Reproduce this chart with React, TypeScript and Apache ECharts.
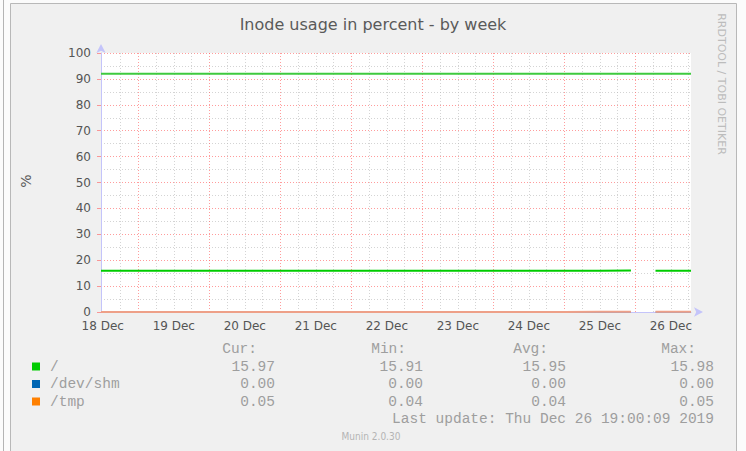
import React, { useEffect, useRef } from "react";
import * as echarts from "echarts";

const TITLE = "Inode usage in percent - by week";
const Y_NAME = "%";
const WATERMARK = "RRDTOOL / TOBI OETIKER";

// x values: hours since 18 Dec 2019 00:00
const times = [11.4, 24, 36, 48, 60, 72, 84, 96, 108, 120, 132, 144, 156, 168, 180, 190.5, 194, 198.8, 204, 210.8];
const rootValues = [15.91, 15.92, 15.93, 15.93, 15.94, 15.94, 15.95, 15.95, 15.95, 15.96, 15.96, 15.96, 15.97, 15.97, 15.97, 15.98, null, 15.97, 15.97, 15.97];
const shmValues = [0, 0, 0, 0, 0, 0, 0, 0, 0, 0, 0, 0, 0, 0, 0, 0, null, 0, 0, 0];
const tmpValues = [0.04, 0.04, 0.04, 0.04, 0.04, 0.04, 0.04, 0.04, 0.04, 0.04, 0.04, 0.04, 0.04, 0.04, 0.05, 0.05, null, 0.05, 0.05, 0.05];
const warningTimes = [11.4, 210.8];
const warningValues = [92, 92];

const dayLabels = ["18 Dec", "19 Dec", "20 Dec", "21 Dec", "22 Dec", "23 Dec", "24 Dec", "25 Dec", "26 Dec"];
const labelHours = [12, 36, 60, 84, 108, 132, 156, 180, 204];
const gridHours = [18, 24, 30, 36, 42, 48, 54, 60, 66, 72, 78, 84, 90, 96, 102, 108, 114, 120, 126, 132, 138, 144, 150, 156, 162, 168, 174, 180, 186, 192, 198, 204, 210];

const seriesNames = ["/", "/dev/shm", "/tmp"];
const seriesColors = ["#00cc00", "#0066b3", "#ff8000"];
const statHeaders = ["Cur:", "Min:", "Avg:", "Max:"];
const curValues = ["15.97", "0.00", "0.05"];
const minValues = ["15.91", "0.00", "0.04"];
const avgValues = ["15.95", "0.00", "0.04"];
const maxValues = ["15.98", "0.00", "0.05"];
const lastUpdate = "Last update: Thu Dec 26 19:00:09 2019";
const version = "Munin 2.0.30";

const MAJOR = "#ff5a5a";
const MINOR = "#b8b8b8";
const AXIS = "#c4c4fa";
const MONO = "'Liberation Mono', 'DejaVu Sans Mono', monospace";
const SANS = "'DejaVu Sans', sans-serif";

export default function App() {
  const ref = useRef<HTMLDivElement>(null);

  useEffect(() => {
    document.body.style.margin = "0";
    if (!ref.current) return;
    const chart = echarts.init(ref.current, undefined, { renderer: "svg" });

    const legendText = "#9e9e9e";
    const rowY = [366.5, 384, 401.5];
    const headerRight = [257, 406, 548, 696];
    const valueRight = [275, 423, 566, 714];
    const statCols = [curValues, minValues, avgValues, maxValues];

    const graphics: any[] = [
      { type: "rect", z: -20, silent: true, shape: { x: 0, y: 0, width: 746, height: 451 }, style: { fill: "#fbfbfb" } },
      { type: "line", z: -19, silent: true, shape: { x1: 3.5, y1: 0, x2: 3.5, y2: 451 }, style: { stroke: "#b4b4b4", lineWidth: 1 } },
      { type: "rect", z: -18, silent: true, shape: { x: 10.5, y: 3.5, width: 726, height: 470 }, style: { fill: "#f0f0f0", stroke: "#b8b8b8", lineWidth: 1 } },
      { type: "text", x: 373, y: 24, style: { text: TITLE, font: `16px ${SANS}`, fill: "#5a5a5a", align: "center", verticalAlign: "middle" } },
      { type: "text", x: 26, y: 181, rotation: Math.PI / 2, style: { text: Y_NAME, font: `14px ${SANS}`, fill: "#5a5a5a", align: "center", verticalAlign: "middle" } },
      { type: "text", x: 721, y: 84, rotation: -Math.PI / 2, style: { text: WATERMARK, font: `11px ${SANS}`, fill: "#bcbcbc", align: "center", verticalAlign: "middle" } },
      { type: "text", x: 371, y: 436.5, style: { text: version, font: `10px 'DejaVu Sans Condensed', 'Liberation Sans Narrow', sans-serif`, fill: "#b4b4b4", align: "center", verticalAlign: "middle" } },
      { type: "text", x: 714, y: 418.5, style: { text: lastUpdate, font: `14.5px ${MONO}`, fill: legendText, align: "right", verticalAlign: "middle" } },
    ];
    statHeaders.forEach((h, c) => {
      graphics.push({ type: "text", x: headerRight[c], y: 349, style: { text: h, font: `14.5px ${MONO}`, fill: legendText, align: "right", verticalAlign: "middle" } });
    });
    seriesNames.forEach((name, r) => {
      graphics.push({ type: "rect", shape: { x: 32, y: rowY[r] - 4, width: 8, height: 8 }, style: { fill: seriesColors[r] } });
      graphics.push({ type: "text", x: 50, y: rowY[r], style: { text: name, font: `14.5px ${MONO}`, fill: legendText, align: "left", verticalAlign: "middle" } });
      statCols.forEach((col, c) => {
        graphics.push({ type: "text", x: valueRight[c], y: rowY[r], style: { text: col[r], font: `14.5px ${MONO}`, fill: legendText, align: "right", verticalAlign: "middle" } });
      });
    });

    const mk = (vals: (number | null)[]) => times.map((t, i) => [t, vals[i]]);

    chart.setOption({
      animation: false,
      grid: { left: 101, top: 53, width: 590, height: 259, show: true, backgroundColor: "#ffffff", borderWidth: 0 },
      xAxis: {
        type: "value",
        min: 11.4,
        max: 210.8,
        z: 1,
        axisLine: { show: true, lineStyle: { color: AXIS }, symbol: ["none", "arrow"], symbolSize: [7, 9], symbolOffset: [0, 12] },
        axisTick: { show: false, customValues: gridHours },
        axisLabel: {
          customValues: labelHours,
          color: "#555",
          fontSize: 12,
          fontFamily: SANS,
          margin: 8,
          formatter: (v: number) => {
            const i = labelHours.indexOf(Math.round(v));
            return i >= 0 ? dayLabels[i] : "";
          },
        },
        splitLine: { show: true, lineStyle: { color: [MINOR, MAJOR, MINOR, MINOR], type: [1, 2], width: 1, opacity: 0.6 } },
      },
      yAxis: {
        type: "value",
        min: 0,
        max: 100,
        interval: 10,
        z: 1,
        axisLine: { show: true, lineStyle: { color: AXIS }, symbol: ["none", "arrow"], symbolSize: [7, 9], symbolOffset: [0, 9] },
        axisTick: { show: true, length: 4, lineStyle: { color: MAJOR, opacity: 0.6 } },
        axisLabel: { color: "#555", fontSize: 12, fontFamily: SANS, margin: 10 },
        splitLine: { show: true, lineStyle: { color: MAJOR, type: [1, 2], width: 1, opacity: 0.6 } },
        minorTick: { show: false, splitNumber: 2 },
        minorSplitLine: { show: true, lineStyle: { color: MINOR, type: [1, 2], width: 1, opacity: 0.6 } },
      },
      series: [
        { name: "warning", type: "line", z: 3, data: warningTimes.map((t, i) => [t, warningValues[i]]), symbol: "none", lineStyle: { color: "#3fca3f", width: 2 }, silent: true },
        { name: seriesNames[0], type: "line", z: 3, data: mk(rootValues), symbol: "none", connectNulls: false, lineStyle: { color: seriesColors[0], width: 2 } },
        { name: seriesNames[1], type: "line", z: 4, clip: false, data: mk(shmValues), symbol: "none", connectNulls: false, lineStyle: { color: seriesColors[1], width: 2, opacity: 0.4 } },
        { name: seriesNames[2], type: "line", z: 5, clip: false, data: mk(tmpValues), symbol: "none", connectNulls: false, lineStyle: { color: "#eea088", width: 2 } },
      ],
      graphic: graphics,
    });

    return () => chart.dispose();
  }, []);

  return <div ref={ref} style={{ width: 746, height: 451 }} />;
}
